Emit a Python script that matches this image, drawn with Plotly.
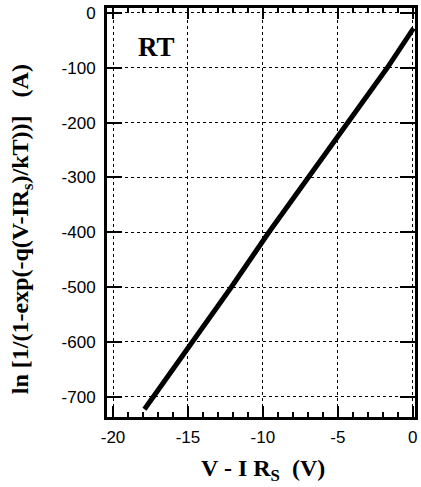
import plotly.graph_objects as go

# Data
v_minus_irs = [-17.9, -14.65, -12.1, -9.6, -6.95, -4.4, -1.7, 0.05]
ln_value = [-723, -600, -500, -400, -300, -200, -100, -28]

x_ticks = [-20, -15, -10, -5, 0]
y_ticks = [0, -100, -200, -300, -400, -500, -600, -700]

fig = go.Figure()
fig.add_trace(go.Scatter(x=v_minus_irs, y=ln_value, mode="lines",
                         line=dict(color="black", width=5), showlegend=False))

serif = "Liberation Serif, Times New Roman, serif"
sans = "Liberation Sans, Arial, sans-serif"

fig.update_layout(
    width=421, height=487,
    margin=dict(l=107, r=3, t=8, b=70),
    plot_bgcolor="white", paper_bgcolor="white",
    font=dict(family=sans, size=17, color="black"),
    xaxis=dict(range=[-20.4, 0.15], tickvals=x_ticks, ticktext=[str(v) for v in x_ticks],
               ticks="inside", ticklen=11, tickwidth=2, tickcolor="black",
               showline=True, linewidth=3, linecolor="black", mirror="ticks",
               showgrid=True, gridcolor="black", griddash="dot", gridwidth=1,
               zeroline=False,
               minor=dict(dtick=1, ticks="inside", ticklen=5, tickwidth=2, tickcolor="black", showgrid=False),
               tickfont=dict(family=sans, size=17), ticklabelstandoff=3),
    yaxis=dict(range=[-737, 9], tickvals=y_ticks, ticktext=[str(v) for v in y_ticks],
               ticks="inside", ticklen=15, tickwidth=2, tickcolor="black",
               showline=True, linewidth=3, linecolor="black", mirror="ticks",
               showgrid=True, gridcolor="black", griddash="dot", gridwidth=1,
               zeroline=False,
               tickfont=dict(family=sans, size=17), ticklabelstandoff=5),
    annotations=[
        dict(text="<b>RT</b>", x=0.16, y=0.905, xref="paper", yref="paper",
             xanchor="center", yanchor="middle",
             showarrow=False, font=dict(family=serif, size=27)),
        dict(text="<b>V - I R<sub>S</sub>&nbsp;&nbsp;(V)</b>", x=0.508, y=-0.13, xref="paper", yref="paper",
             xanchor="center", yanchor="middle",
             showarrow=False, font=dict(family=serif, size=24)),
        dict(text="<b>ln [1/(1-exp(-q(V-IR<sub>s</sub>)/kT))]&nbsp;&nbsp;&nbsp;(A)</b>", x=-0.275, y=0.46,
             xref="paper", yref="paper", textangle=-90,
             xanchor="center", yanchor="middle",
             showarrow=False, font=dict(family=serif, size=24)),
    ],
)

fig.write_html("out.html")
